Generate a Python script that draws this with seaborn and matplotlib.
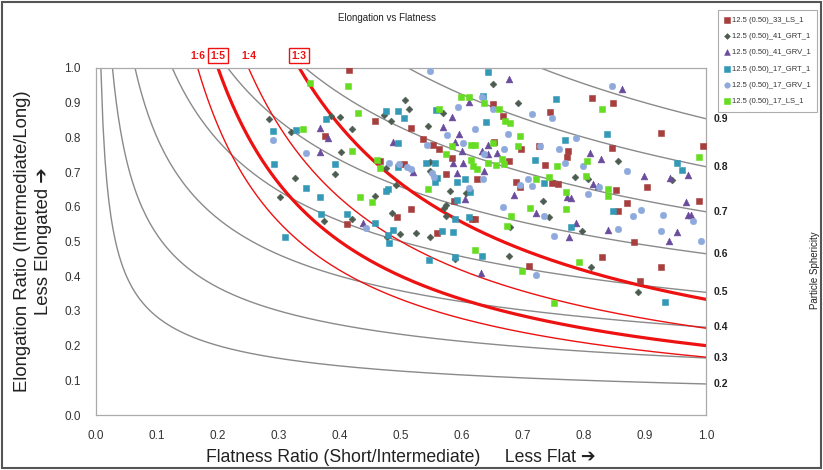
import numpy as np
import pandas as pd
import matplotlib
matplotlib.use("Agg")
import matplotlib.pyplot as plt
from matplotlib.patches import Rectangle
import seaborn as sns

# ---------------- data ----------------
# (flatness S/I, elongation I/L) for each sample set
ls33_x = [0.415, 0.457, 0.376, 0.516, 0.536, 0.552, 0.562, 0.583, 0.465, 0.505, 0.573, 0.625,
          0.516, 0.494, 0.587, 0.617, 0.622, 0.412, 0.559, 0.652, 0.650, 0.667, 0.813, 0.848,
          0.744, 0.696, 0.774, 0.772, 0.726, 0.677, 0.736, 0.688, 0.695, 0.747, 0.758, 0.846,
          0.927, 0.995, 0.853, 0.903, 0.870, 0.856, 0.988, 0.882, 0.830, 0.710, 0.926, 0.892]
ls33_y = [0.994, 0.847, 0.804, 0.826, 0.794, 0.778, 0.766, 0.740, 0.732, 0.722, 0.694, 0.680,
          0.594, 0.570, 0.617, 0.564, 0.564, 0.550, 0.524, 0.788, 0.895, 0.862, 0.914, 0.898,
          0.872, 0.766, 0.762, 0.743, 0.775, 0.732, 0.720, 0.671, 0.658, 0.670, 0.665, 0.769,
          0.814, 0.776, 0.648, 0.658, 0.610, 0.589, 0.618, 0.499, 0.454, 0.429, 0.427, 0.387]

grt41_x = [0.283, 0.320, 0.386, 0.400, 0.419, 0.401, 0.391, 0.326, 0.301, 0.506, 0.513, 0.472,
           0.483, 0.545, 0.569, 0.476, 0.491, 0.457, 0.547, 0.547, 0.581, 0.606, 0.574, 0.570,
           0.573, 0.486, 0.420, 0.374, 0.498, 0.525, 0.547, 0.477, 0.650, 0.588, 0.692, 0.856,
           0.785, 0.806, 0.945, 0.732, 0.743, 0.679, 0.796, 0.677, 0.812, 0.888]
grt41_y = [0.853, 0.816, 0.862, 0.858, 0.824, 0.759, 0.694, 0.684, 0.627, 0.908, 0.882, 0.865,
           0.847, 0.833, 0.869, 0.711, 0.663, 0.631, 0.730, 0.703, 0.646, 0.639, 0.605, 0.596,
           0.574, 0.581, 0.565, 0.559, 0.522, 0.524, 0.512, 0.514, 0.954, 0.449, 0.898, 0.733,
           0.685, 0.679, 0.677, 0.618, 0.572, 0.543, 0.531, 0.458, 0.426, 0.354]

grv41_x = [0.367, 0.380, 0.368, 0.487, 0.520, 0.583, 0.569, 0.595, 0.611, 0.589, 0.600, 0.585,
           0.601, 0.592, 0.632, 0.642, 0.636, 0.657, 0.605, 0.438, 0.631, 0.677, 0.862, 0.642,
           0.810, 0.828, 0.899, 0.941, 0.971, 0.686, 0.722, 0.815, 0.823, 0.772, 0.778, 0.968,
           0.970, 0.976, 0.787, 0.776, 0.840, 0.952, 0.940]
grv41_y = [0.826, 0.799, 0.759, 0.788, 0.699, 0.858, 0.831, 0.810, 0.903, 0.788, 0.762, 0.727,
           0.727, 0.698, 0.762, 0.751, 0.703, 0.754, 0.622, 0.552, 0.410, 0.968, 0.939, 0.778,
           0.756, 0.737, 0.689, 0.684, 0.692, 0.634, 0.581, 0.666, 0.660, 0.629, 0.624, 0.615,
           0.576, 0.576, 0.552, 0.514, 0.533, 0.528, 0.502]

grt17_x = [0.290, 0.328, 0.377, 0.292, 0.392, 0.345, 0.368, 0.369, 0.412, 0.457, 0.310, 0.475,
           0.495, 0.505, 0.495, 0.495, 0.475, 0.479, 0.541, 0.555, 0.558, 0.559, 0.555, 0.592,
           0.613, 0.591, 0.605, 0.640, 0.642, 0.634, 0.479, 0.480, 0.487, 0.567, 0.585, 0.588,
           0.611, 0.633, 0.546, 0.588, 0.754, 0.837, 0.769, 0.719, 0.735, 0.952, 0.961, 0.848,
           0.779, 0.932]
grt17_y = [0.818, 0.821, 0.853, 0.722, 0.723, 0.653, 0.629, 0.579, 0.579, 0.552, 0.512, 0.877,
           0.877, 0.855, 0.785, 0.714, 0.646, 0.650, 0.725, 0.725, 0.879, 0.684, 0.671, 0.620,
           0.644, 0.672, 0.679, 0.845, 0.988, 0.920, 0.519, 0.495, 0.533, 0.531, 0.528, 0.564,
           0.572, 0.458, 0.447, 0.454, 0.912, 0.810, 0.793, 0.735, 0.670, 0.727, 0.706, 0.589,
           0.541, 0.325]

grv17_x = [0.547, 0.290, 0.345, 0.480, 0.496, 0.510, 0.517, 0.551, 0.554, 0.542, 0.575, 0.593,
           0.601, 0.622, 0.632, 0.651, 0.611, 0.443, 0.846, 0.714, 0.747, 0.676, 0.787, 0.728,
           0.759, 0.669, 0.636, 0.635, 0.769, 0.799, 0.870, 0.709, 0.714, 0.695, 0.824, 0.806,
           0.668, 0.735, 0.894, 0.881, 0.930, 0.978, 0.751, 0.855, 0.927, 0.992, 0.722]
grv17_y = [0.992, 0.793, 0.754, 0.727, 0.723, 0.716, 0.708, 0.697, 0.685, 0.778, 0.807, 0.888,
           0.785, 0.823, 0.916, 0.881, 0.655, 0.540, 0.949, 0.867, 0.857, 0.810, 0.799, 0.775,
           0.766, 0.768, 0.751, 0.679, 0.725, 0.718, 0.703, 0.680, 0.660, 0.663, 0.658, 0.636,
           0.599, 0.574, 0.591, 0.574, 0.576, 0.560, 0.517, 0.536, 0.531, 0.502, 0.403]

ls17_x = [0.350, 0.413, 0.429, 0.339, 0.420, 0.461, 0.466, 0.433, 0.453, 0.545, 0.563, 0.599,
          0.612, 0.583, 0.574, 0.615, 0.622, 0.614, 0.618, 0.625, 0.636, 0.642, 0.655, 0.650,
          0.661, 0.621, 0.670, 0.678, 0.829, 0.695, 0.692, 0.665, 0.669, 0.805, 0.755, 0.742,
          0.722, 0.803, 0.839, 0.839, 0.771, 0.711, 0.770, 0.681, 0.674, 0.988, 0.791, 0.698,
          0.750]
ls17_y = [0.956, 0.949, 0.869, 0.824, 0.761, 0.735, 0.713, 0.627, 0.613, 0.651, 0.882, 0.916,
          0.915, 0.775, 0.752, 0.778, 0.778, 0.735, 0.718, 0.708, 0.898, 0.725, 0.720, 0.783,
          0.881, 0.476, 0.847, 0.841, 0.882, 0.805, 0.775, 0.737, 0.722, 0.732, 0.718, 0.687,
          0.680, 0.690, 0.651, 0.631, 0.644, 0.596, 0.594, 0.574, 0.546, 0.744, 0.442, 0.415,
          0.324]

series_names = ["12.5 (0.50)_33_LS_1", "12.5 (0.50)_41_GRT_1", "12.5 (0.50)_41_GRV_1",
                "12.5 (0.50)_17_GRT_1", "12.5 (0.50)_17_GRV_1", "12.5 (0.50)_17_LS_1"]

# sphericity contours (Krumbein intercept sphericity) and S:L ratio lines
sphericity_levels = [0.2, 0.3, 0.4, 0.5, 0.6, 0.7, 0.8, 0.9]
ratio_denoms = [3, 4, 5, 6]
ratio_labels = ["1:3", "1:4", "1:5", "1:6"]
ratio_bold = [True, False, True, False]

x_ticks = [round(0.1 * i, 1) for i in range(11)]
y_ticks = [round(0.1 * i, 1) for i in range(11)]

# ---------------- styling ----------------
sns.set_style("white")
plt.rcParams["font.family"] = ["Liberation Sans", "DejaVu Sans"]

fig = plt.figure(figsize=(8.23, 4.70), dpi=100)
ax = fig.add_axes([96 / 823, 55 / 470, 610 / 823, 347 / 470])

line_gray = "#8a8a8a"
red = "#ee1111"

# sphericity curves: psi^3 = (S/I) * (I/L)^2
for psi in sphericity_levels:
    xs = np.linspace(psi ** 3, 1.0, 300)
    ys = np.sqrt(psi ** 3 / xs)
    sns.lineplot(x=xs, y=ys, ax=ax, color=line_gray, lw=1.0, sort=False, estimator=None)
    ax.text(1.012, np.sqrt(psi ** 3), f"{psi:.1f}", fontsize=7.5, fontweight="bold",
            color="#222222", va="center", ha="left", clip_on=False)

# S/L ratio curves: (S/I)*(I/L) = 1/n
for n, lab, bold in zip(ratio_denoms, ratio_labels, ratio_bold):
    xs = np.linspace(1.0 / n, 1.0, 300)
    ys = 1.0 / (n * xs)
    sns.lineplot(x=xs, y=ys, ax=ax, color=red, lw=2.3 if bold else 1.0,
                 sort=False, estimator=None)
    kw = dict(fontsize=7.5, fontweight="bold", color=red, ha="center", va="center",
              clip_on=False)
    if bold:
        kw["bbox"] = dict(boxstyle="square,pad=0.25", fc="white", ec=red, lw=1.0)
    ax.text(1.0 / n, 1.036, lab, **kw)

# sample points
marker_specs = [
    (ls33_x, ls33_y, "s", "#a63f3d", 18),
    (grt41_x, grt41_y, "D", "#4d5c50", 12),
    (grv41_x, grv41_y, "^", "#6a4c9c", 24),
    (grt17_x, grt17_y, "s", "#3499b6", 18),
    (grv17_x, grv17_y, "o", "#8eaadc", 22),
    (ls17_x, ls17_y, "s", "#66dd22", 18),
]
for (xs, ys, mk, col, sz), name in zip(marker_specs, series_names):
    sns.scatterplot(x=xs, y=ys, ax=ax, marker=mk, color=col, s=sz, edgecolor=col,
                    linewidth=0.4, label=name, zorder=3)

ax.set_xlim(0, 1)
ax.set_ylim(0, 1)
ax.set_xticks(x_ticks)
ax.set_yticks(y_ticks)
ax.set_xticklabels([f"{t:.1f}" for t in x_ticks])
ax.set_yticklabels([f"{t:.1f}" for t in y_ticks])
ax.tick_params(axis="both", which="both", direction="out", length=4, width=0.8,
               color="#999999", labelsize=8.5, labelcolor="#333333", pad=7)
for sp in ax.spines.values():
    sp.set_color("#aaaaaa")
    sp.set_linewidth(0.9)

ax.set_xlabel("Flatness Ratio (Short/Intermediate)     Less Flat \u2794",
              fontsize=12.7, color="#222222", labelpad=5)
ax.set_ylabel("Elongation Ratio (Intermediate/Long)\nLess Elongated \u2794",
              fontsize=13.3, color="#222222", labelpad=9, linespacing=1.25)

# legend in the top right corner of the figure
handles, labels = ax.get_legend_handles_labels()
ax.get_legend().remove()
leg = fig.legend(handles, labels, loc="upper left",
                 bbox_to_anchor=(718 / 823, 1 - 10 / 470), fontsize=5.5,
                 frameon=True, fancybox=False, edgecolor="#999999",
                 handlelength=0.6, handletextpad=0.3, borderpad=0.9,
                 labelspacing=1.15, markerscale=0.85, borderaxespad=0)
leg.get_frame().set_linewidth(0.8)
for t in leg.get_texts():
    t.set_color("#333333")

fig.text(387 / 823, 1 - 18 / 470, "Elongation vs Flatness", fontsize=7,
         ha="center", va="center", color="#222222")
fig.text(815 / 823, 1 - 270 / 470, "Particle Sphericity", fontsize=7,
         rotation=90, ha="center", va="center", color="#222222")

fig.add_artist(Rectangle((0.002, 0.005), 0.996, 0.99, transform=fig.transFigure,
                         fill=False, edgecolor="#555555", lw=1.5))

fig.savefig("out.png", dpi=100)
